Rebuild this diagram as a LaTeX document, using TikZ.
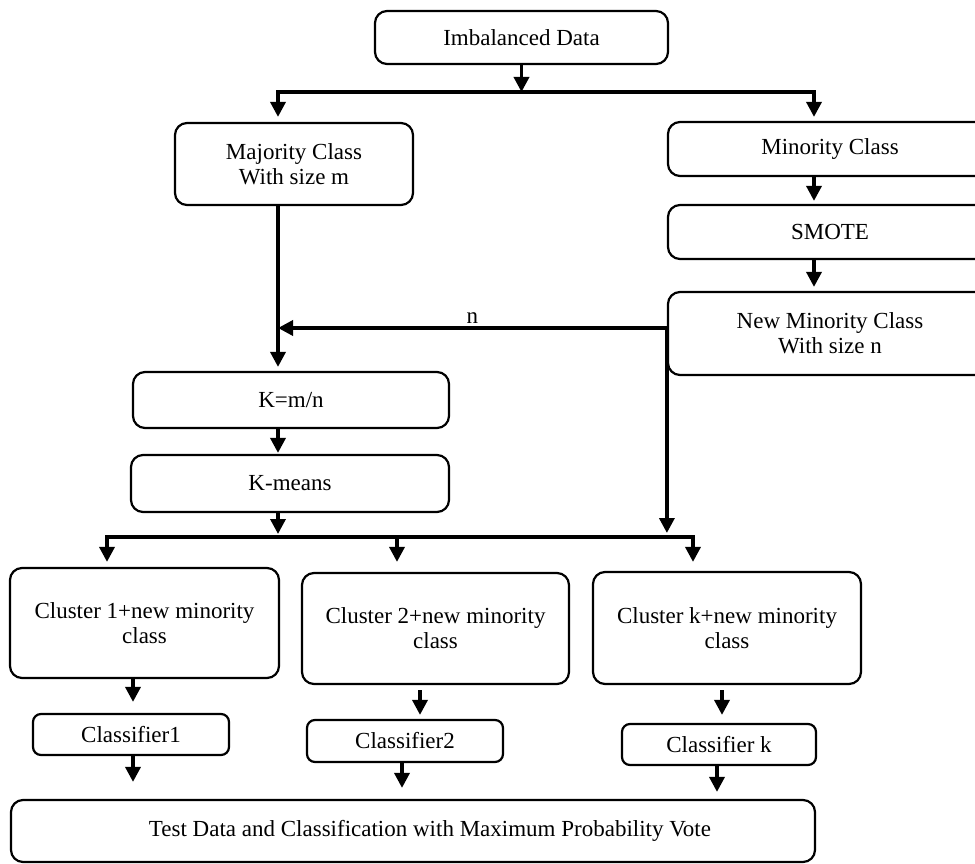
\documentclass[tikz,border=0pt]{standalone}
\usepackage{fontspec}
\setmainfont{Liberation Serif}
\usetikzlibrary{arrows.meta}

\begin{document}
\begin{tikzpicture}[x=1pt, y=-1pt,
		box/.style={draw, line width=2.2pt, rounded corners=12pt, align=center, inner sep=0pt, font=\fontsize{23}{25}\selectfont},
		smallbox/.style={box, rounded corners=8pt},
		link/.style={line width=3.5pt},
		arr/.style={link, -{Triangle[width=15pt,length=15pt]}}]
			%%%%% START %%%%%
			
			\useasboundingbox (0,0) rectangle (975,864);
			\clip (0,0) rectangle (975,864);
			
			\node[box, minimum width=293pt, minimum height=53pt] (imb) at (521.5,37.5) {Imbalanced Data};
			\node[box, minimum width=238pt, minimum height=82pt] (maj) at (294,164) {Majority Class\\With size m};
			\node[box, minimum width=324pt, minimum height=54pt] (minor) at (830,149) {Minority Class};
			\node[box, minimum width=324pt, minimum height=54pt] (smote) at (830,232) {SMOTE};
			\node[box, minimum width=324pt, minimum height=83pt] (newmin) at (830,333.5) {New Minority Class\\With size n};
			
			\node[box, minimum width=316pt, minimum height=56pt] (kmn) at (291,400) {K=m/n};
			\node[box, minimum width=318pt, minimum height=57pt] (kmeans) at (290,483.5) {K-means};
			
			\node[box, minimum width=269pt, minimum height=110pt] (clus1) at (144.5,623) {Cluster 1+new minority\\class};
			\node[box, minimum width=267pt, minimum height=111pt] (clus2) at (435.5,628.5) {Cluster 2+new minority\\class};
			\node[box, minimum width=268pt, minimum height=112pt] (clusk) at (727,628) {Cluster k+new minority\\class};
			
			\node[smallbox, minimum width=196pt, minimum height=41pt] (clf1) at (131,734.5) {Classifier1};
			\node[smallbox, minimum width=196pt, minimum height=42pt] (clf2) at (405,741) {Classifier2};
			\node[smallbox, minimum width=194pt, minimum height=41pt] (clfk) at (719,744.5) {Classifier k};
			
			\node[box, minimum width=804pt, minimum height=62pt] (test) at (413,831) {\hspace*{34pt}Test Data and Classification with Maximum Probability Vote};
			
			% split of the data
			\coordinate (splitA) at (521.5,92);
			\coordinate (busL) at (278,92);
			\coordinate (busR) at (814,92);
			\draw[arr] (imb) -- (splitA);
			\draw[arr, shorten >=5pt] (splitA) -- (busL) -- (busL |- maj.north);
			\draw[arr, shorten >=4pt] (splitA) -- (busR) -- (busR |- minor.north);
			\draw[arr, shorten >=3pt] (busR |- minor.south) -- (busR |- smote.north);
			\draw[arr, shorten >=4pt] (busR |- smote.south) -- (busR |- newmin.north);
			
			% size n goes back to the left
			\coordinate (tap) at ([yshift=5.5pt]newmin.west);
			\draw[arr] (tap) -- node[above, inner sep=3pt, font=\fontsize{23}{25}\selectfont] (nlabel) {n} (busL |- tap);
			\draw[arr, shorten >=4pt] (busL |- maj.south) -- (busL |- kmn.north);
			\draw[arr, shorten >=1pt] (busL |- kmn.south) -- (busL |- kmeans.north);
			
			% clustering
			\coordinate (bus2M) at (397,537);
			\coordinate (bus2L) at (107,537);
			\coordinate (bus2R) at (693,537);
			\draw[arr, shorten >=3pt] (busL |- kmeans.south) -- (busL |- bus2M);
			\draw[arr, shorten >=4pt] (tap) -- (tap |- bus2M);
			\draw[arr, shorten >=5pt] (bus2M) -- (bus2L) -- (bus2L |- clus1.north);
			\draw[arr, shorten >=9pt] (bus2M) -- (bus2R) -- (bus2R |- clusk.north);
			\draw[arr, shorten >=10pt] (bus2M) -- (bus2M |- clus2.north);
			
			% classifiers
			\draw[arr, shorten >=11pt] ([xshift=-11.5pt]clus1.south) -- ([xshift=-11.5pt]clus1.south |- clf1.north);
			\draw[arr, shorten <=5pt, shorten >=4pt] ([xshift=-15.5pt]clus2.south) -- ([xshift=-15.5pt]clus2.south |- clf2.north);
			\draw[arr, shorten <=5pt, shorten >=8pt] ([xshift=-5pt]clusk.south) -- ([xshift=-5pt]clusk.south |- clfk.north);
			
			\draw[arr, shorten >=17pt] ([xshift=2pt]clf1.south) -- ([xshift=2pt]clf1.south |- test.north);
			\draw[arr, shorten >=11pt] ([xshift=-3pt]clf2.south) -- ([xshift=-3pt]clf2.south |- test.north);
			\draw[arr, shorten >=7pt] ([xshift=-2pt]clfk.south) -- ([xshift=-2pt]clfk.south |- test.north);
			
			%%%%% END %%%%%
		\end{tikzpicture}
\end{document}
